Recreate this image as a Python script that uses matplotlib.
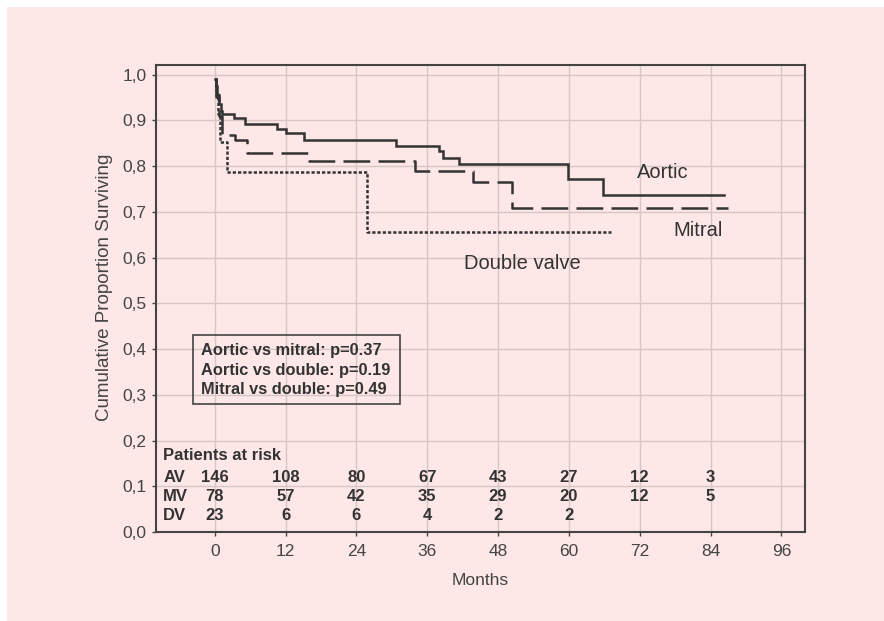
import matplotlib
matplotlib.use("Agg")
import matplotlib.pyplot as plt
from matplotlib.patches import Rectangle

plt.rcParams['font.family'] = ['Liberation Sans', 'DejaVu Sans']

# Kaplan-Meier step data (months, survival after the step)
aortic_t = [0, 0.2, 0.4, 0.7, 1.0, 1.3, 3.2, 5.1, 10.6, 12.1, 15.1, 30.7, 38.0, 38.6, 41.3, 59.8, 65.8, 86.3]
aortic_s = [0.99, 0.975, 0.955, 0.935, 0.92, 0.913, 0.906, 0.891, 0.882, 0.873, 0.857, 0.844, 0.832, 0.818, 0.804, 0.772, 0.736, 0.736]

mitral_t = [0, 0.3, 0.7, 1.2, 3.5, 5.5, 15.9, 34.0, 43.8, 50.3, 87.0]
mitral_s = [0.99, 0.95, 0.91, 0.869, 0.858, 0.829, 0.811, 0.790, 0.765, 0.709, 0.709]

double_t = [0, 0.2, 0.5, 0.9, 2.0, 25.8, 67.1]
double_s = [0.99, 0.957, 0.913, 0.852, 0.787, 0.655, 0.655]

# patients at risk
risk_months = [0, 12, 24, 36, 48, 60, 72, 84]
risk_av = [146, 108, 80, 67, 43, 27, 12, 3]
risk_mv = [78, 57, 42, 35, 29, 20, 12, 5]
risk_dv = [23, 6, 6, 4, 2, 2]

p_values = ["Aortic vs mitral: p=0.37", "Aortic vs double: p=0.19", "Mitral vs double: p=0.49"]

x_ticks = [0, 12, 24, 36, 48, 60, 72, 84, 96]
y_ticks = [0.0, 0.1, 0.2, 0.3, 0.4, 0.5, 0.6, 0.7, 0.8, 0.9, 1.0]
y_tick_labels = ["0,0", "0,1", "0,2", "0,3", "0,4", "0,5", "0,6", "0,7", "0,8", "0,9", "1,0"]

pink = "#fde7e7"
ink = "#333333"

fig = plt.figure(figsize=(8.84, 6.21), dpi=100)
fig.patch.set_facecolor("white")
fig.patches.append(Rectangle((7 / 884, 0), 1 - 7 / 884, 1 - 7 / 621, transform=fig.transFigure,
                             facecolor=pink, edgecolor="none", zorder=-10))

ax = fig.add_axes([155.7 / 884, 1 - 532 / 621, (805 - 155.7) / 884, (532 - 65) / 621])
ax.set_facecolor(pink)

lw = 1.8
ax.step(aortic_t, aortic_s, where="post", color=ink, lw=lw, solid_joinstyle="miter")
ax.step(mitral_t, mitral_s, where="post", color=ink, lw=lw, linestyle=(0, (10.7, 3.3)))
ax.step(double_t, double_s, where="post", color=ink, lw=lw, linestyle=(0, (1.3, 0.8)))

ax.text(75.9, 0.786, "Aortic", fontsize=14.5, color=ink, ha="center", va="center")
ax.text(81.8, 0.660, "Mitral", fontsize=14.5, color=ink, ha="center", va="center")
ax.text(52.1, 0.587, "Double valve", fontsize=14.5, color=ink, ha="center", va="center")

# p-value box
ax.add_patch(Rectangle((-3.72, 0.280), 35.1, 0.150, facecolor="none", edgecolor="#444444", lw=1.2, zorder=3))
for i, txt in enumerate(p_values):
    ax.text(-2.3, 0.397 - i * 0.043, txt, fontsize=11.8, fontweight="bold", color=ink, va="center", ha="left")

# patients at risk table
ax.text(-8.7, 0.168, "Patients at risk", fontsize=12, fontweight="bold", color=ink, va="center", ha="left")
rows = [("AV", risk_av, 0.120), ("MV", risk_mv, 0.078), ("DV", risk_dv, 0.035)]
for label, vals, yy in rows:
    ax.text(-8.7, yy, label, fontsize=12, fontweight="bold", color=ink, va="center", ha="left")
    for m, v in zip(risk_months, vals):
        ax.text(m, yy, str(v), fontsize=12, fontweight="bold", color=ink, va="center", ha="center")

ax.set_xlim(-10, 100)
ax.set_ylim(0, 1.021)
ax.set_xticks(x_ticks)
ax.set_yticks(y_ticks)
ax.set_yticklabels(y_tick_labels)
ax.grid(True, color="#d8c6c6", lw=1.0)
ax.set_axisbelow(True)
ax.tick_params(axis="both", labelsize=12.5, colors="#444444", length=3, width=1, direction="out")
ax.tick_params(axis="x", pad=6)
for sp in ax.spines.values():
    sp.set_color("#444444")
    sp.set_linewidth(1.5)

ax.set_xlabel("Months", fontsize=12.5, color="#444444", labelpad=10)
fig.text(105 / 884, 1 - 287 / 621, "Cumulative Proportion Surviving", rotation=90,
         fontsize=13.5, color="#444444", ha="center", va="center")

fig.savefig("out.png", dpi=100, facecolor=fig.get_facecolor())
